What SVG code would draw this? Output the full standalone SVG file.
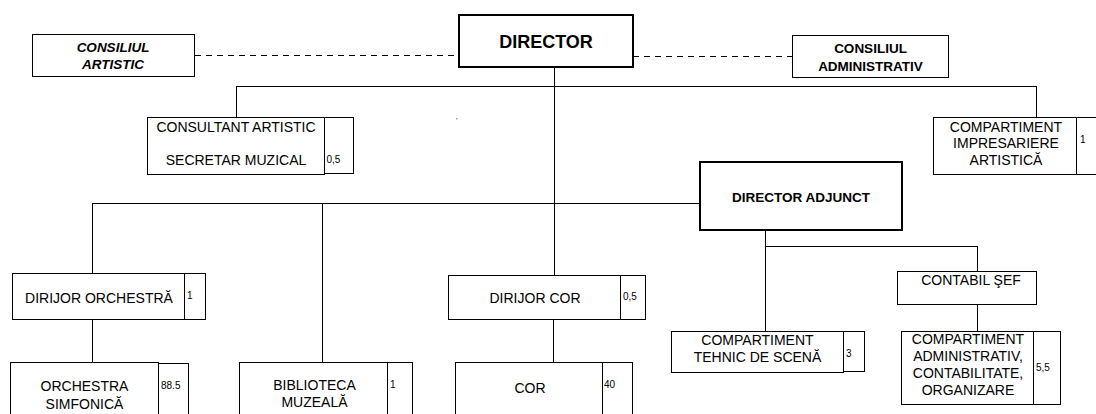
<svg xmlns="http://www.w3.org/2000/svg" width="1096" height="414" viewBox="0 0 1096 414">
<style>
.box{fill:#fff;stroke:#000;stroke-width:1}
.thick{fill:#fff;stroke:#000;stroke-width:2}
.ln{fill:none;stroke:#000;stroke-width:1}
.dash{fill:none;stroke:#000;stroke-width:1;stroke-dasharray:6 5}
text{font-family:"Liberation Sans",Arial,sans-serif;fill:#000}
.t{font-size:14px;text-anchor:middle}
.tb{font-size:13.5px;font-weight:bold;text-anchor:middle}
.ti{font-size:13.5px;font-weight:bold;font-style:italic;text-anchor:middle}
.n{font-size:10px}
</style>
<rect width="1096" height="414" fill="#fff"/>
<g id="connectors">
<line class="dash" x1="195" y1="55.5" x2="459" y2="55.5"/>
<line class="dash" x1="633" y1="56.5" x2="792" y2="56.5"/>
<line class="ln" x1="554.5" y1="67" x2="554.5" y2="275"/>
<line class="ln" x1="236.5" y1="86.5" x2="1036.5" y2="86.5"/>
<line class="ln" x1="236.5" y1="86" x2="236.5" y2="117"/>
<line class="ln" x1="1036.5" y1="86" x2="1036.5" y2="117"/>
<line class="ln" x1="92.5" y1="203.5" x2="700" y2="203.5"/>
<line class="ln" x1="92.5" y1="203" x2="92.5" y2="273"/>
<line class="ln" x1="322.5" y1="203" x2="322.5" y2="362"/>
<line class="ln" x1="92.5" y1="320" x2="92.5" y2="362"/>
<line class="ln" x1="553.5" y1="320" x2="553.5" y2="362"/>
<line class="ln" x1="765.5" y1="231" x2="765.5" y2="331"/>
<line class="ln" x1="765.5" y1="246.5" x2="977.5" y2="246.5"/>
<line class="ln" x1="977.5" y1="246" x2="977.5" y2="271"/>
<line class="ln" x1="977.5" y1="304" x2="977.5" y2="331"/>
</g>
<g id="consiliul-artistic">
<rect class="box" x="32.5" y="34.5" width="162" height="42"/>
<text class="ti" x="113" y="52">CONSILIUL</text>
<text class="ti" x="113" y="69">ARTISTIC</text>
</g>
<g id="director">
<rect class="thick" x="459" y="15" width="174" height="52"/>
<text x="546" y="48" style="font-size:18px;font-weight:bold;text-anchor:middle">DIRECTOR</text>
</g>
<g id="consiliul-administrativ">
<rect class="box" x="792.5" y="35.5" width="156" height="42"/>
<text class="tb" x="870.5" y="53">CONSILIUL</text>
<text class="tb" x="870.5" y="71">ADMINISTRATIV</text>
</g>
<g id="consultant">
<rect class="box" x="147.5" y="117.5" width="177" height="57"/>
<rect class="box" x="324.5" y="117.5" width="29" height="56"/>
<text class="t" x="236" y="132">CONSULTANT ARTISTIC</text>
<text class="t" x="236" y="165">SECRETAR MUZICAL</text>
<text class="n" x="326.5" y="163">0,5</text>
</g>
<g id="impresariere">
<rect class="box" x="933.5" y="117.5" width="143" height="57"/>
<rect class="box" x="1076.5" y="117.5" width="30" height="57"/>
<text class="t" x="1006" y="132">COMPARTIMENT</text>
<text class="t" x="1006" y="148">IMPRESARIERE</text>
<text class="t" x="1006" y="165">ARTISTICĂ</text>
<text class="n" x="1080" y="143">1</text>
</g>
<g id="director-adjunct">
<rect class="thick" x="700" y="162" width="202" height="68"/>
<text class="tb" x="801" y="202">DIRECTOR ADJUNCT</text>
</g>
<g id="dirijor-orchestra">
<rect class="box" x="12.5" y="273.5" width="172" height="46"/>
<rect class="box" x="184.5" y="273.5" width="21" height="46"/>
<text class="t" x="99" y="303">DIRIJOR ORCHESTRĂ</text>
<text class="n" x="187" y="299">1</text>
</g>
<g id="dirijor-cor">
<rect class="box" x="448.5" y="275.5" width="172" height="44"/>
<rect class="box" x="620.5" y="275.5" width="25" height="44"/>
<text class="t" x="535" y="303">DIRIJOR COR</text>
<text class="n" x="623" y="300">0,5</text>
</g>
<g id="tehnic">
<rect class="box" x="671.5" y="331.5" width="172" height="41"/>
<rect class="box" x="843.5" y="331.5" width="21" height="40"/>
<text class="t" x="757.5" y="345">COMPARTIMENT</text>
<text class="t" x="757.5" y="362">TEHNIC DE SCENĂ</text>
<text class="n" x="846" y="357">3</text>
</g>
<g id="contabil-sef">
<rect class="box" x="897.5" y="271.5" width="139" height="33"/>
<text class="t" x="971" y="285">CONTABIL ŞEF</text>
</g>
<g id="administrativ">
<rect class="box" x="901.5" y="331.5" width="132" height="73"/>
<rect class="box" x="1033.5" y="331.5" width="27" height="73"/>
<text class="t" x="968" y="344">COMPARTIMENT</text>
<text class="t" x="968" y="361">ADMINISTRATIV,</text>
<text class="t" x="968" y="378">CONTABILITATE,</text>
<text class="t" x="968" y="395">ORGANIZARE</text>
<text class="n" x="1036" y="371">5,5</text>
</g>
<g id="orchestra">
<rect class="box" x="10.5" y="362.5" width="148" height="60"/>
<rect class="box" x="158.5" y="363.5" width="30" height="60"/>
<text class="t" x="84.5" y="391">ORCHESTRA</text>
<text class="t" x="84.5" y="409">SIMFONICĂ</text>
<text class="n" x="161" y="389">88.5</text>
</g>
<g id="biblioteca">
<rect class="box" x="239.5" y="362.5" width="148" height="60"/>
<rect class="box" x="387.5" y="362.5" width="25" height="60"/>
<text class="t" x="314.5" y="390">BIBLIOTECA</text>
<text class="t" x="314.5" y="407">MUZEALĂ</text>
<text class="n" x="390" y="388">1</text>
</g>
<g id="cor">
<rect class="box" x="455.5" y="362.5" width="147" height="60"/>
<rect class="box" x="602.5" y="362.5" width="30" height="60"/>
<text class="t" x="530" y="393">COR</text>
<text class="n" x="604" y="388">40</text>
</g>
<rect x="456" y="118" width="1.5" height="1.5" fill="#999"/>
</svg>
